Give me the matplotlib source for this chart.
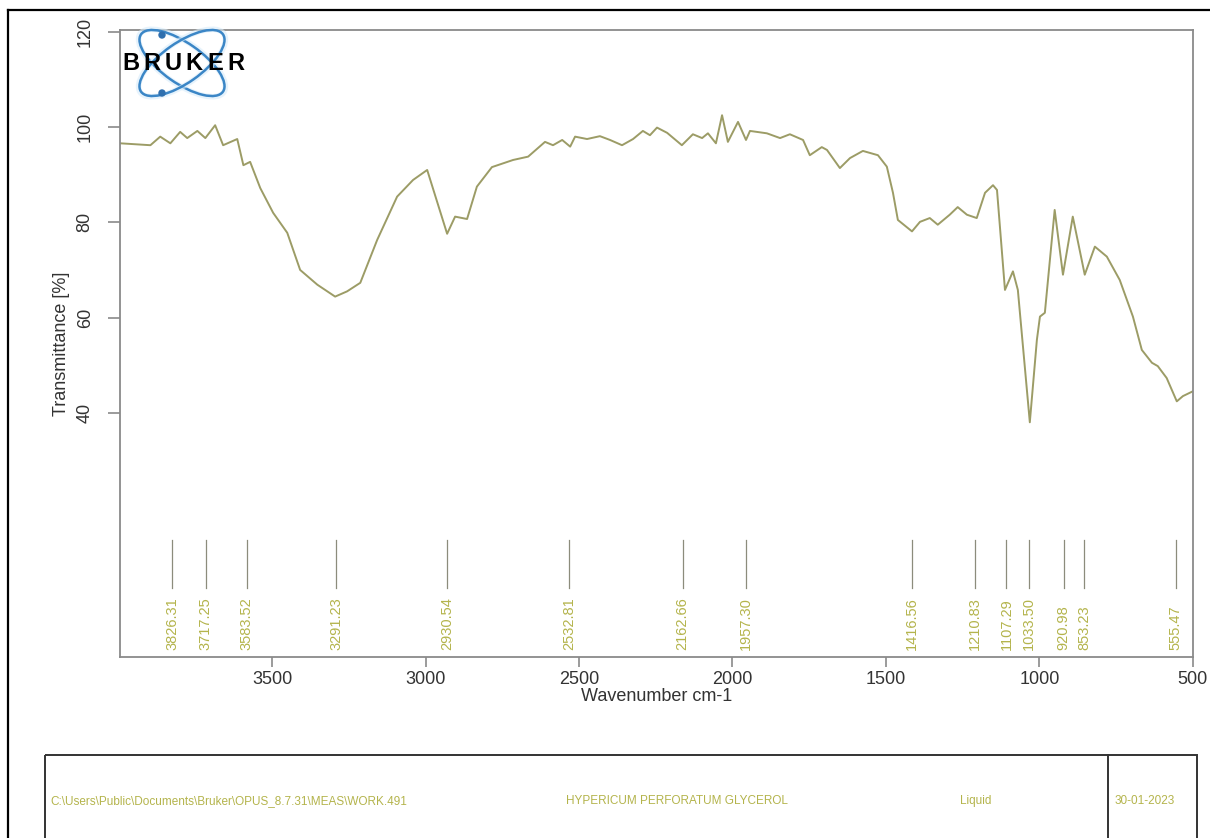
#!/usr/bin/env python3

import matplotlib
matplotlib.use('Agg')
import matplotlib.pyplot as plt
from matplotlib.patches import Ellipse, Rectangle, Circle
from matplotlib.lines import Line2D

plt.rcParams['font.family'] = ['Liberation Sans', 'DejaVu Sans']

FIGSIZE = (12.1, 8.38)
TRACE_COLOR = '#9c9c66'
LABEL_COLOR = '#b4b44c'
AXIS_COLOR = '#8a8a8a'
NARROW = ['Liberation Sans Narrow', 'Liberation Sans', 'DejaVu Sans']

# spectrum, wavenumber (cm-1) and transmittance (%)
wavenumber = [3995, 3897, 3865, 3832, 3800, 3777, 3744, 3718, 3686, 3660,
              3614, 3594, 3572, 3539, 3497, 3451, 3409, 3353, 3295, 3256,
              3213, 3158, 3093, 3041, 2995, 2930, 2904, 2865, 2833, 2784,
              2715, 2666, 2611, 2585, 2555, 2529, 2513, 2474, 2432, 2399,
              2360, 2324, 2292, 2269, 2246, 2213, 2165, 2129, 2099, 2080,
              2054, 2034, 2015, 1982, 1956, 1943, 1888, 1845, 1813, 1770,
              1748, 1709, 1692, 1650, 1617, 1575, 1526, 1497, 1477, 1461,
              1415, 1389, 1357, 1331, 1292, 1266, 1236, 1204, 1177, 1151,
              1138, 1112, 1086, 1070, 1031, 1008, 998, 982, 950, 923,
              891, 852, 819, 780, 738, 695, 666, 633, 614, 585,
              552, 532, 500]
transmittance = [96.6, 96.2, 98.0, 96.6, 99.0, 97.7, 99.2, 97.7, 100.4, 96.2,
                 97.5, 92.0, 92.7, 87.2, 82.0, 77.8, 70.0, 66.9, 64.4, 65.5,
                 67.3, 76.3, 85.4, 88.9, 91.0, 77.6, 81.2, 80.7, 87.5, 91.6,
                 93.1, 93.8, 96.9, 96.2, 97.3, 95.9, 98.0, 97.5, 98.1, 97.3,
                 96.2, 97.5, 99.2, 98.3, 99.9, 98.8, 96.2, 98.5, 97.7, 98.7,
                 96.6, 102.5, 96.9, 101.1, 97.3, 99.2, 98.7, 97.7, 98.5, 97.3,
                 94.1, 95.8, 95.2, 91.4, 93.5, 95.0, 94.1, 91.7, 86.2, 80.5,
                 78.1, 80.1, 80.9, 79.5, 81.6, 83.2, 81.6, 80.9, 86.2, 87.8,
                 86.8, 65.8, 69.7, 65.8, 38.0, 55.3, 60.2, 61.0, 82.6, 69.0,
                 81.2, 69.0, 74.9, 72.8, 67.9, 60.2, 53.2, 50.5, 49.8, 47.3,
                 42.4, 43.5, 44.5]

# picked peaks
peaks = [3826.31, 3717.25, 3583.52, 3291.23, 2930.54, 2532.81, 2162.66,
         1957.30, 1416.56, 1210.83, 1107.29, 1033.50, 920.98, 853.23, 555.47]

x_ticks = [3500, 3000, 2500, 2000, 1500, 1000, 500]
y_ticks = [40, 60, 80, 100, 120]

info_path = 'C:\\Users\\Public\\Documents\\Bruker\\OPUS_8.7.31\\MEAS\\WORK.491'
info_sample = 'HYPERICUM PERFORATUM GLYCEROL'
info_form = 'Liquid'
info_date = '30-01-2023'

fig = plt.figure(figsize=FIGSIZE, dpi=100)
ax = fig.add_axes([0.0992, 0.216, 0.8868, 0.7482])

ax.plot(wavenumber, transmittance, color=TRACE_COLOR, lw=1.4)
ax.set_xlim(3996, 499)
ax.set_ylim(-11.3, 120.4)

# peak markers: short tick plus rotated value
for p in peaks:
    ax.plot([p, p], [3.1, 13.2], color='#8c8c7c', lw=0.9)
    ax.text(p, -9.9, '%.2f' % p, rotation=90, ha='center', va='bottom',
            fontsize=10.5, color=LABEL_COLOR, family=NARROW)

ax.set_xticks(x_ticks)
ax.set_yticks(y_ticks)
for s in ax.spines.values():
    s.set_color(AXIS_COLOR)
    s.set_linewidth(1.3)
ax.tick_params(direction='out', width=1.2, color=AXIS_COLOR,
               labelsize=13, labelcolor='#333333')
ax.tick_params(axis='x', length=7, pad=3)
ax.tick_params(axis='y', length=9, pad=10)
for lab in ax.get_yticklabels():
    lab.set_rotation(90)
    lab.set_va('center')
ax.set_xlabel('Wavenumber cm-1', fontsize=13, color='#333333', labelpad=0)
ax.set_ylabel('Transmittance [%]', fontsize=13, color='#333333', labelpad=5)

# overlay in pixel units for logo, info box and frame
ov = fig.add_axes([0, 0, 1, 1], zorder=5)
ov.set_xlim(0, 1210)
ov.set_ylim(838, 0)
ov.axis('off')

# frame
ov.add_line(Line2D([8, 8], [10, 838], color='black', lw=1.6))
ov.add_line(Line2D([8, 1210], [10, 10], color='black', lw=1.6))

# logo
cx, cy = 182, 63
for ang in (35, -35):
    ov.add_patch(Ellipse((cx, cy), 102, 41, angle=ang, fill=False,
                         ec='#d8ecfa', lw=4, alpha=0.6))
    ov.add_patch(Ellipse((cx, cy), 100, 40, angle=ang, fill=False,
                         ec='#3b86c6', lw=1.8))
ov.add_patch(Circle((162, 35), 3, color='#2f6fae'))
ov.add_patch(Circle((162, 93), 3, color='#2f6fae'))
for i, ch in enumerate('BRUKER'):
    ov.text(131 + i * 21, 64, ch, ha='center', va='center', fontsize=17,
            fontweight='heavy', color='black')

# info box
ov.add_patch(Rectangle((45, 755), 1152, 100, fill=False, ec='#333333', lw=1.4))
ov.add_line(Line2D([1108, 1108], [755, 838], color='#333333', lw=1.4))
ov.text(50, 801, info_path, fontsize=8.5, color=LABEL_COLOR, va='center',
        family=NARROW)
ov.text(566, 801, info_sample, fontsize=8.5, color=LABEL_COLOR, va='center',
        family=NARROW)
ov.text(960, 801, info_form, fontsize=8.5, color=LABEL_COLOR, va='center',
        family=NARROW)
ov.text(1115, 801, info_date, fontsize=8.5, color=LABEL_COLOR, va='center',
        family=NARROW)

plt.savefig('out.png', dpi=100)
